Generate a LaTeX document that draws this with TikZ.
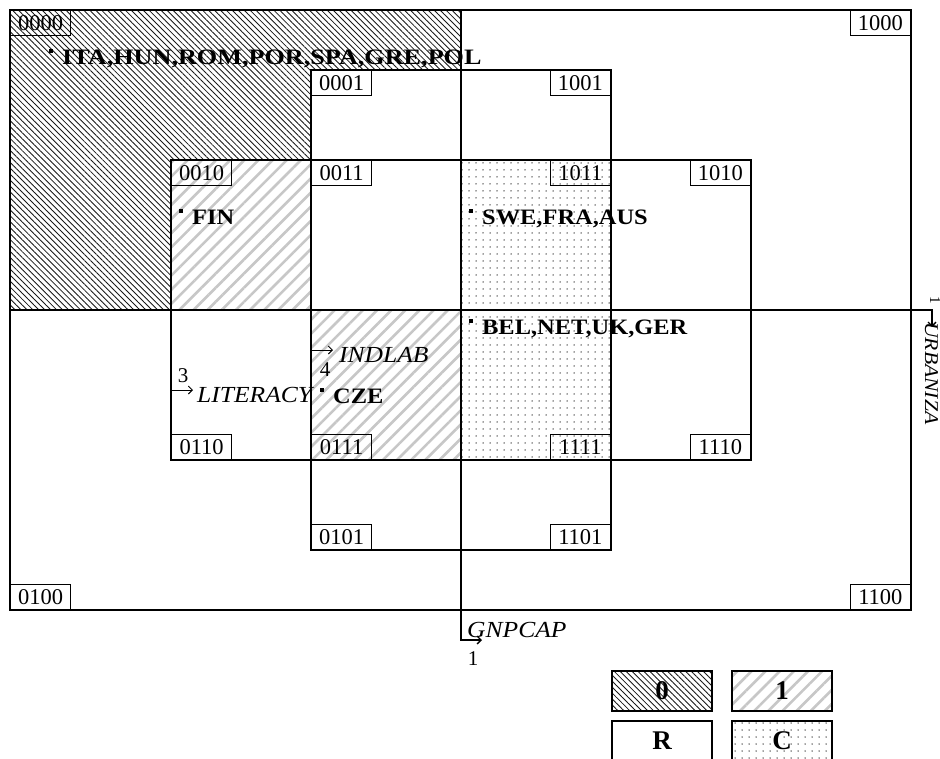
\documentclass[tikz,border=0pt]{standalone}
\usepackage{fontspec}
\setmainfont{Liberation Serif}
\newfontfamily\widefont[FakeStretch=1.11]{Liberation Serif}
\newfontfamily\widerfont[FakeStretch=1.19]{Liberation Serif}
\usetikzlibrary{patterns.meta,arrows.meta}
\newcommand{\cbul}{\raisebox{11pt}{\rule{4pt}{4pt}}\hspace{9pt}}
\tikzset{
  frame/.style={line width=1.4pt},
  code/.style={draw, line width=1.3pt, minimum width=60pt, minimum height=25pt, inner sep=0pt, font=\fontsize{22.5}{22.5}\selectfont},
  country/.style={font=\widefont\bfseries\fontsize{22}{22}\selectfont, inner sep=0pt, anchor=base west},
  varname/.style={font=\widefont\itshape\fontsize{23}{23}\selectfont, inner sep=0pt, anchor=base west},
  num/.style={font=\fontsize{21}{21}\selectfont, inner sep=0pt},
  legendbox/.style={draw, line width=1.4pt, minimum width=100pt, minimum height=40pt, inner sep=0pt, font=\bfseries\fontsize{27}{27}\selectfont},
  darkhatch/.style={pattern={Lines[angle=-45,distance=4.2pt,line width=0.85pt]}, pattern color=black!90},
  lighthatch/.style={pattern={Lines[angle=45,distance=10pt,line width=2.6pt]}, pattern color=black!22},
  dotfill/.style={pattern={Dots[distance=7pt,radius=0.75pt]}, pattern color=black!75},
  axisarrow/.style={line width=1.3pt, -{Straight Barb[length=4pt,width=8pt]}},
  textarrow/.style={line width=0.9pt, -{Straight Barb[length=4pt,width=8pt]}}
}
\begin{document}
\begin{tikzpicture}[x=1pt,y=-1pt]
\useasboundingbox (0,0) rectangle (940,758);
\fill[white] (0,0) rectangle (940,758);
% shaded regions
\fill[darkhatch] (10,10) -- (461,10) -- (461,70) -- (311,70) -- (311,160) -- (171,160) -- (171,310) -- (10,310) -- cycle;
\fill[lighthatch] (171,160) rectangle (311,310);
\fill[lighthatch] (311,310) rectangle (461,460);
\fill[dotfill] (461,160) rectangle (611,310);
\fill[dotfill] (461,310) rectangle (611,460);
% frames
\draw[frame] (10,10) rectangle (911,610);
\draw[frame] (311,70) rectangle (611,550);
\draw[frame] (171,160) rectangle (751,460);
% axes
\coordinate (gtop) at (461,10);
\coordinate (gcorner) at (461,640);
\coordinate (gend) at (482,640);
\draw[axisarrow] (gtop) -- (gcorner) -- (gend);
\coordinate (uleft) at (10,310);
\coordinate (ucorner) at (932,310);
\coordinate (uend) at (932,327);
\draw[axisarrow] (uleft) -- (ucorner) -- (uend);
% code boxes
\node[code, anchor=north west] (c0000) at (10,10) {0000};
\node[code, anchor=north east] (c1000) at (911,10) {1000};
\node[code, anchor=south west] (c0100) at (10,610) {0100};
\node[code, anchor=south east] (c1100) at (911,610) {1100};
\node[code, anchor=north west] (c0001) at (311,70) {0001};
\node[code, anchor=north east] (c1001) at (611,70) {1001};
\node[code, anchor=south west] (c0101) at (311,550) {0101};
\node[code, anchor=south east] (c1101) at (611,550) {1101};
\node[code, anchor=north west] (c0010) at (171,160) {0010};
\node[code, anchor=north east] (c1010) at (751,160) {1010};
\node[code, anchor=south west] (c0110) at (171,460) {0110};
\node[code, anchor=south east] (c1110) at (751,460) {1110};
\node[code, anchor=north west] (c0011) at (311,160) {0011};
\node[code, anchor=north east] (c1011) at (611,160) {1011};
\node[code, anchor=south west] (c0111) at (311,460) {0111};
\node[code, anchor=south east] (c1111) at (611,460) {1111};
% countries
\node[country, font=\widerfont\bfseries\fontsize{22}{22}\selectfont] (ita) at (49,64) {\cbul ITA,HUN,ROM,POR,SPA,GRE,POL};
\node[country] (fin) at (179,224) {\cbul FIN};
\node[country] (swe) at (469,224) {\cbul SWE,FRA,AUS};
\node[country] (bel) at (469,334) {\cbul BEL,NET,UK,GER};
\node[country] (cze) at (320,403) {\cbul CZE};
% variable labels
\coordinate (lita) at (171,390);
\coordinate (litb) at (193,390);
\draw[textarrow] (lita) -- (litb);
\node[num] (n3) at (183,376) {3};
\node[varname] (lit) at (197,402) {LITERACY};
\coordinate (inda) at (311,350);
\coordinate (indb) at (333,350);
\draw[textarrow] (inda) -- (indb);
\node[num] (n4) at (325,370) {4};
\node[varname] (ind) at (339,362) {INDLAB};
\node[varname] (gnp) at (467,637) {GNPCAP};
\node[num] (n1) at (473,659) {1};
\node[varname, rotate=-90, font=\widefont\itshape\fontsize{19.5}{19.5}\selectfont] (urb) at (925,322) {URBANIZA};
\node[num, rotate=-90, font=\fontsize{15}{15}\selectfont] (n1u) at (935,300) {1};
% legend
\node[legendbox, darkhatch] (l0) at (662,691) {0};
\node[legendbox, lighthatch] (l1) at (782,691) {1};
\node[legendbox] (lr) at (662,741) {R};
\node[legendbox, dotfill] (lc) at (782,741) {C};
\end{tikzpicture}
\end{document}
